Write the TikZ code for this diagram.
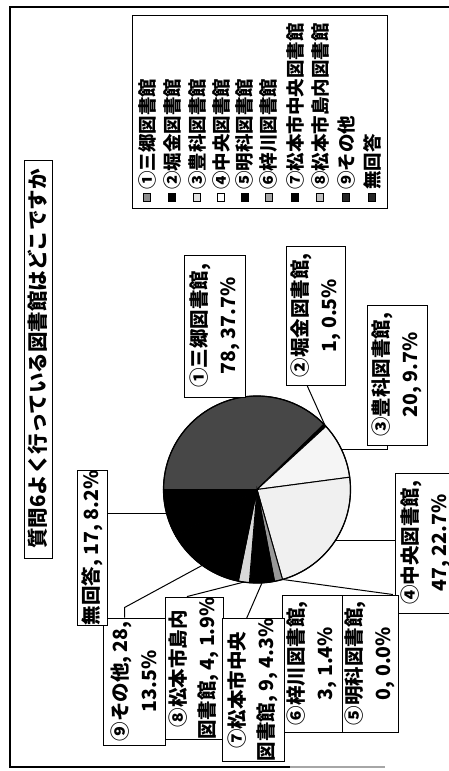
\documentclass[tikz,border=0pt]{standalone}
\usepackage{fontspec}
\setmainfont{Noto Sans CJK JP}
\usetikzlibrary{calc}
\newcommand\labfnt{\fontsize{19.5}{29}\selectfont\bfseries}
\newcommand\legfnt{\fontsize{18.5}{20}\selectfont\bfseries}
\newcommand\ttlfnt{\fontsize{20.5}{22}\selectfont\bfseries}
\begin{document}
\begin{tikzpicture}[x=1pt,y=-1pt,
  lab/.style={draw, line width=1pt, rotate=90, align=center, inner sep=0pt, font=\labfnt, fill=white},
  leg/.style={rotate=90, anchor=west, inner sep=0pt, font=\legfnt},
  mk/.style={draw, line width=0.6pt, minimum size=7.5pt, inner sep=0pt},
  lead/.style={line width=1pt},
  slice/.style={draw=black, line width=1pt}]
\useasboundingbox (0,0) rectangle (449,771);
\clip (0,0) rectangle (449,771);
% frame
\draw[line width=1.2pt] (460,7) -- (10,7) -- (10,767) -- (290,767);
\draw[line width=1.2pt, black!35] (290,767) -- (385,767);
% title
\node[draw, line width=1pt, rotate=90, minimum width=398pt, minimum height=28pt, inner sep=0pt, font=\ttlfnt] (title) at (38,359) {質問6よく行っている図書館はどこですか};
% legend
\node[draw, line width=1pt, minimum width=255pt, minimum height=193pt, inner sep=0pt] (legbox) at (259.5,111.5) {};
\foreach \i/\xx/\col/\txt in {1/147/black!45/①三郷図書館, 2/172/black/②堀金図書館, 3/197/black!12/③豊科図書館, 4/221/white/④中央図書館, 5/245/black/⑤明科図書館, 6/269/black!35/⑥梓川図書館, 7/295/black/⑦松本市中央図書館, 8/320/black!25/⑧松本市島内図書館, 9/346/black!85/⑨その他, 10/372/black!85/無回答}{
  \node[mk, fill=\col] (m\i) at (\xx,197.5) {};
  \node[leg] (t\i) at (\xx,190) {\txt};
}
% pie
\coordinate (c) at (257,489.5);
\def\R{93.5}
\filldraw[slice, fill=black!72] (c) -- ++(-180:\R) arc (-180:-44.28:\R) -- cycle;
\filldraw[slice, fill=black] (c) -- ++(-44.28:\R) arc (-44.28:-42.48:\R) -- cycle;
\filldraw[slice, fill=black!4] (c) -- ++(-42.48:\R) arc (-42.48:-7.56:\R) -- cycle;
\filldraw[slice, fill=black!6] (c) -- ++(-7.56:\R) arc (-7.56:74.16:\R) -- cycle;
\filldraw[slice, fill=black!40] (c) -- ++(74.16:\R) arc (74.16:79.2:\R) -- cycle;
\filldraw[slice, fill=black] (c) -- ++(79.2:\R) arc (79.2:94.68:\R) -- cycle;
\filldraw[slice, fill=black!15] (c) -- ++(94.68:\R) arc (94.68:101.52:\R) -- cycle;
\filldraw[slice, fill=black] (c) -- ++(101.52:\R) arc (101.52:150.12:\R) -- cycle;
\filldraw[slice, fill=black] (c) -- ++(150.12:\R) arc (150.12:180:\R) -- cycle;
\draw[line width=1.2pt] (c) circle[radius=\R];
% pie anchor points
\coordinate (p2) at ($(c)+(-43.38:\R)$);
\coordinate (p3) at ($(c)+(-25.02:\R)$);
\coordinate (p4) at ($(c)+(33.3:\R)$);
\coordinate (p5) at ($(c)+(74.16:\R)$);
\coordinate (p7) at ($(c)+(86.94:\R)$);
\coordinate (p8) at ($(c)+(98.1:\R)$);
\coordinate (p9) at ($(c)+(125.82:\R)$);
\coordinate (p0) at ($(c)+(164.88:\R)$);
% labels
\node[lab, minimum width=142pt, minimum height=61pt] (l1) at (214.5,326) {①三郷図書館,\\78, 37.7\%};
\node[lab, minimum width=139pt, minimum height=59pt] (l2) at (315.5,315.5) {②堀金図書館,\\1, 0.5\%};
\node[lab, minimum width=140pt, minimum height=60pt] (l3) at (397,375) {③豊科図書館,\\20, 9.7\%};
\node[lab, minimum width=140pt, minimum height=62pt] (l4) at (426,543) {④中央図書館,\\47, 22.7\%};
\node[lab, minimum width=137pt, minimum height=60pt] (l6) at (312,663.5) {⑥梓川図書館,\\3, 1.4\%};
\node[lab, minimum width=137pt, minimum height=56pt] (l5) at (370,663.5) {⑤明科図書館,\\0, 0.0\%};
\node[lab, minimum width=127pt, minimum height=62pt] (l9) at (134,681.5) {⑨その他, 28,\\13.5\%};
\node[lab, minimum width=150pt, minimum height=30pt] (l0) at (92,548) {無回答, 17, 8.2\%};
\node[lab, minimum width=139pt, minimum height=58pt] (l8) at (194,668.5) {⑧松本市島内\\図書館, 4, 1.9\%};
\node[lab, minimum width=140pt, minimum height=62pt] (l7) at (253,690) {⑦松本市中央\\図書館, 9, 4.3\%};
% leader lines
\coordinate (c2) at ($(l2.north west)!0.36!(l2.south west)$);
\coordinate (c3) at ($(l3.north west)!0.35!(l3.south west)$);
\coordinate (c5) at ($(l5.north east)!0.9!(l5.south east)$);
\coordinate (c7) at ($(l7.north east)!0.4!(l7.south east)$);
\coordinate (c8) at ($(l8.north east)!0.38!(l8.south east)$);
\coordinate (c9) at ($(l9.north east)!0.35!(l9.south east)$);
\draw[lead] (p2) -- (c2);
\draw[lead] (p3) -- (p3 -| c3) -- (c3);
\draw[lead] (p4) -- (p4 -| l4.north);
\draw[lead] (p5) -- (c5);
\draw[lead] (p7) -- (c7);
\draw[lead] (p8) -- (c8);
\draw[lead] (p9) -- ($(c9)+(0,-10)$) -- (c9);
\draw[lead] (p0) -- (p0 -| l0.south);
\end{tikzpicture}
\end{document}
